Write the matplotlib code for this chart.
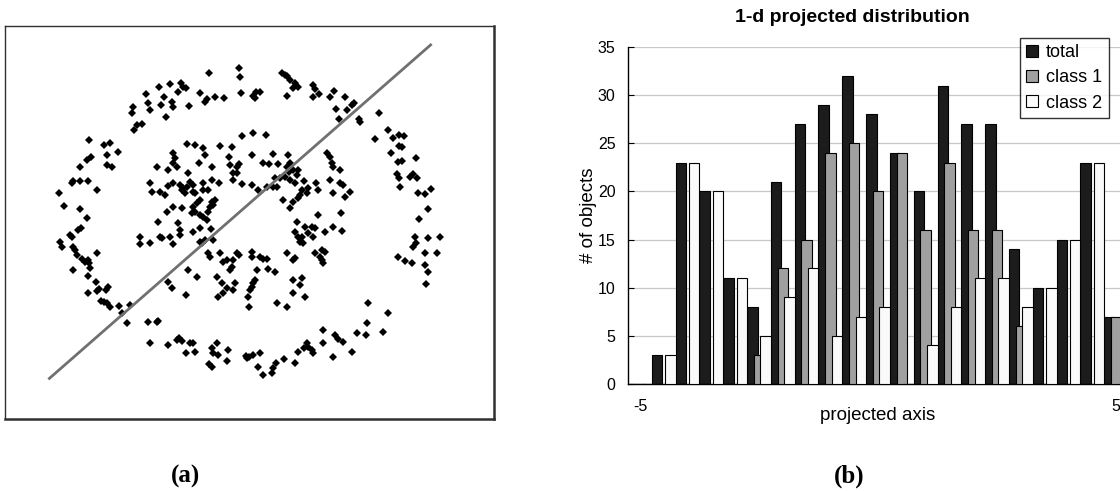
import numpy as np
import matplotlib
matplotlib.use("Agg")
import matplotlib.pyplot as plt

plt.rcParams['font.family'] = ['Liberation Sans', 'DejaVu Sans']

# ---- panel (a): 2-d points (picture units, y down) ----
pts = [
    (398,262),(395,278),(403,330),(410,315),(427,312),(437,222),(445,250),(449,270),(478,200),(483,255),
    (492,232),(498,290),(510,192),(515,245),(520,260),(535,215),(542,188),(548,200),(558,205),(568,257),
    (600,220),(615,245),(622,238),(628,158),(645,230),(672,235),(718,145),(720,170),(722,220),(760,228),
    (768,215),(780,215),(765,233),(845,158),(855,165),(862,168),(870,180),(885,190),(880,205),(895,200),
    (862,228),(940,195),(945,208),(958,222),(940,232),(990,232),(1003,212),(1008,268),(1017,298),(1035,230),
    (1040,270),(1055,255),(1062,248),(1078,298),(1080,305),(1138,278),(1125,358),(1165,330),(1180,355),(1197,345),
    (1212,348),(1205,382),(1198,378),(1172,400),(1193,425),(1205,422),(1248,415),(1190,462),(1198,475),(1230,470),
    (1240,462),(1252,475),(1200,500),(1255,520),(1275,522),(1292,508),(1283,568),(1258,598),(1245,650),(1240,680),
    (1248,670),(1285,655),(1320,650),(1275,698),(1312,698),(1275,735),(1285,755),(1278,792),(1193,712),(1215,722),
    (1235,730),(1103,848),(1165,878),(1100,908),(1150,935),(1098,945),(1072,940),(1055,995),(1030,965),(1015,958),
    (1005,945),(968,930),(970,968),(998,1012),(940,1000),(935,990),(925,980),(920,970),(912,985),(895,995),
    (885,1028),(852,1018),(828,1028),(815,1058),(818,1045),(790,1065),(780,1000),(775,1040),(760,1005),(748,1010),
    (742,1015),(738,1008),(685,990),(680,1022),(655,1005),(650,970),(640,1000),(635,985),(628,1032),(635,1040),
    (585,995),(580,970),(570,968),(558,1000),(545,962),(538,955),(532,960),(505,975),(450,970),(445,905),
    (470,905),(475,903),(380,910),(365,880),(390,855),(357,858),(330,860),(322,850),(312,845),(302,842),
    (325,800),(318,810),(298,808),(290,812),(265,818),(288,785),(265,768),(270,745),(268,730),(255,725),
    (265,720),(290,700),(245,718),(220,750),(232,705),(225,690),(220,680),(185,680),(180,665),(210,645),
    (215,650),(235,630),(242,625),(260,595),(240,568),(192,558),(178,520),(215,490),(220,482),(240,482),
    (265,482),(292,510),(240,440),(262,420),(272,410),(268,360),(312,375),(320,405),(322,435),(335,440),
    (330,368),(355,395),
    (560,372),(585,375),(610,385),(615,405),(598,430),(635,440),(660,378),(695,382),(725,348),(760,338),
    (797,345),(755,405),(818,402),(865,405),(870,428),(790,428),(808,432),(835,432),(688,412),(690,435),
    (710,440),(718,432),(712,460),(700,458),(727,492),(657,488),(635,480),(608,510),(625,510),(610,490),
    (570,485),(565,460),(520,400),(525,415),(520,430),(530,440),(505,450),(470,440),(450,490),(455,515),
    (480,515),(495,525),(505,498),(520,490),(540,495),(550,505),(545,510),(555,520),(560,500),(580,517),
    (585,520),(578,495),(600,540),(590,548),(580,560),(575,580),(585,575),(600,585),(610,590),(620,600),
    (635,545),(640,555),(645,540),(630,560),(625,575),(545,565),(520,560),(500,575),(475,605),(535,610),
    (540,630),(540,645),(520,672),(580,635),(600,625),(632,628),(510,650),(485,655),(480,650),(450,668),
    (420,650),(420,672),(600,665),(605,670),(615,660),(640,660),(625,700),(630,710),(660,700),(670,725),
    (680,720),(700,720),(712,698),(718,705),(755,695),(755,710),(780,710),(790,718),(800,718),(805,748),
    (825,755),(770,750),(765,780),(760,790),(755,800),(750,810),(745,830),(748,860),(705,790),(690,750),
    (695,740),(650,770),(665,790),(680,805),(700,810),(668,820),(655,830),(590,770),(565,750),(558,825),
    (515,805),(505,785),(860,700),(880,720),(885,715),(880,780),(905,775),(900,795),(880,820),(915,830),
    (830,848),(860,860),(945,700),(965,690),(975,695),(965,720),(960,710),(970,730),(900,665),(910,670),
    (925,640),(940,650),(945,625),(935,620),(955,585),(915,620),(890,605),(885,635),(895,650),(905,650),
    (975,635),(1000,620),(1025,632),(1022,580),(870,565),(850,540),(880,545),(895,535),(900,525),(905,510),
    (925,505),(920,520),(955,510),(948,488),(912,482),(885,490),(870,480),(855,470),(840,475),(825,475),
    (830,500),(820,500),(800,500),(775,510),(892,465),(895,450),(880,450),(980,400),(990,410),(995,430),
    (1000,440),(1020,450),(990,480),(1000,520),(1020,488),(1030,495),(1035,530),(1050,515),(860,440),(868,455),
    (755,495),(700,480),
]
line_x = [145, 1295]
line_y = [1078, 72]

# ---- panel (b): histogram of the projection ----
categories = [-5, -4.5, -4, -3.5, -3, -2.5, -2, -1.5, -1, -0.5, 0,
              0.5, 1, 1.5, 2, 2.5, 3, 3.5, 4, 4.5, 5]
total  = [0, 3, 23, 20, 11, 8, 21, 27, 29, 32, 28, 24, 20, 31, 27, 27, 14, 10, 15, 23, 7]
class1 = [0, 0, 0, 0, 0, 3, 12, 15, 24, 25, 20, 24, 16, 23, 16, 16, 6, 0, 0, 0, 7]
class2 = [0, 3, 23, 20, 11, 5, 9, 12, 5, 7, 8, 0, 4, 8, 11, 11, 8, 10, 15, 23, 0]

W, H = 1120, 491
fig = plt.figure(figsize=(W / 100, H / 100), dpi=100)

# left panel
ax1 = fig.add_axes([5 / W, 1 - 419 / H, 489 / W, 393 / H])
px = np.array(pts)
ax1.plot(px[:, 0], px[:, 1], 'D', color='black', markersize=3.9, markeredgewidth=0)
ax1.plot(line_x, line_y, color='#707070', lw=2.0, solid_capstyle='butt')
ax1.set_xlim(15, 1482)
ax1.set_ylim(1197, 18)
ax1.set_xticks([])
ax1.set_yticks([])
for s in ax1.spines.values():
    s.set_color('#303030')
    s.set_linewidth(1.0)
ax1.spines['right'].set_linewidth(1.8)
ax1.spines['bottom'].set_linewidth(1.8)

# right panel
ax2 = fig.add_axes([628 / W, 1 - 384 / H, 500 / W, 337 / H])
idx = np.arange(len(categories))
bw = 0.44
step = 0.28
ax2.bar(idx - step, total, bw, color='#1c1c1c', edgecolor='black', lw=0.8, label='total', zorder=2)
ax2.bar(idx, class1, bw, color='#a0a0a0', edgecolor='black', lw=0.8, label='class 1', zorder=3)
ax2.bar(idx + step, class2, bw, color='#fafafa', edgecolor='black', lw=0.8, label='class 2', zorder=4)
ax2.set_xlim(-0.5, len(categories) - 0.5)
ax2.set_ylim(0, 35)
ax2.set_yticks(range(0, 36, 5))
ax2.yaxis.grid(True, color='#c8c8c8', lw=0.9)
ax2.set_axisbelow(True)
ax2.set_xticks([0, len(categories) - 1])
ax2.set_xticklabels(['%g' % categories[0], '%g' % categories[-1]])
ax2.tick_params(axis='x', length=0, pad=11, labelsize=11.5)
ax2.tick_params(axis='y', direction='in', length=4, pad=9, labelsize=11.5)
for s in ['top', 'right']:
    ax2.spines[s].set_visible(False)
ax2.spines['left'].set_linewidth(1.0)
ax2.spines['bottom'].set_linewidth(1.0)
ax2.set_xlabel('projected axis', fontsize=13.5)
ax2.xaxis.set_label_coords(0.5, -0.068)
ax2.set_ylabel('# of objects', fontsize=13.5)
ax2.yaxis.set_label_coords(-0.062, 0.5)
fig.text(852 / W, 1 - 17 / H, '1-d projected distribution', ha='center', va='center',
         fontsize=14, fontweight='bold')
leg = ax2.legend(loc='upper left', bbox_to_anchor=(1020 / W, 1 - 38 / H),
                 bbox_transform=fig.transFigure, frameon=True, fancybox=False,
                 handlelength=0.65, handleheight=0.65, handletextpad=0.45,
                 labelspacing=0.45, borderpad=0.35, fontsize=13, borderaxespad=0)
leg.get_frame().set_edgecolor('black')
leg.get_frame().set_linewidth(1.0)

# panel captions
fig.text(185 / W, 1 - 476 / H, '(a)', ha='center', va='center', fontsize=18,
         fontweight='bold', family='Liberation Serif')
fig.text(849 / W, 1 - 476 / H, '(b)', ha='center', va='center', fontsize=18,
         fontweight='bold', family='Liberation Serif')

fig.savefig('out.png', dpi=100)
